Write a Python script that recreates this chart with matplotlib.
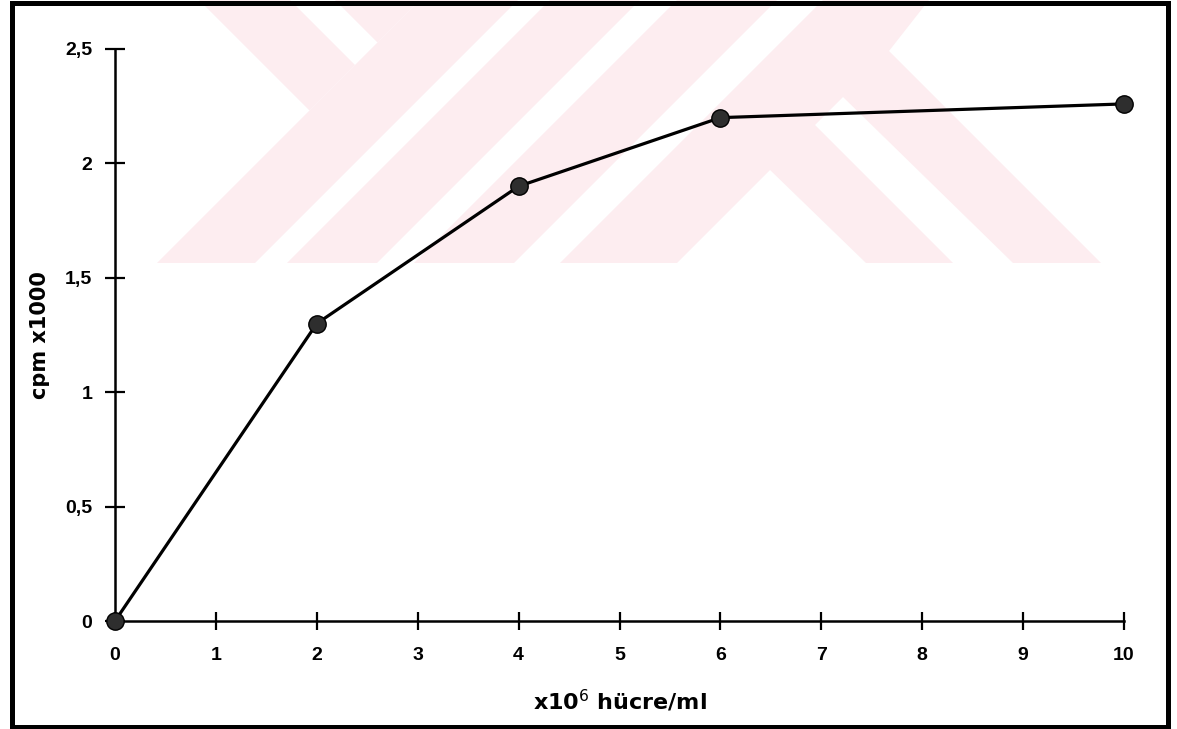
import matplotlib
matplotlib.use('Agg')
import matplotlib.pyplot as plt
from matplotlib.patches import Polygon, Rectangle


# hücre yoğunluğu (x10^6 hücre/ml) ve ölçülen cpm (x1000)
cell_density = [0, 2, 4, 6, 10]
cpm = [0, 1.30, 1.90, 2.20, 2.26]

x_ticks = [0, 1, 2, 3, 4, 5, 6, 7, 8, 9, 10]
x_tick_labels = ['0', '1', '2', '3', '4', '5', '6', '7', '8', '9', '10']
y_ticks = [0, 0.5, 1, 1.5, 2, 2.5]
y_tick_labels = ['0', '0,5', '1', '1,5', '2', '2,5']

W, H = 1177, 729

fig = plt.figure(figsize=(W / 100, H / 100), dpi=100)
fig.patch.set_facecolor('white')


def px(points):
    # piksel (soldan, yukaridan) -> figure koordinati
    return [(x / W, 1 - y / H) for x, y in points]


# arka plandaki soluk pembe logo: capraz seritler
pink = '#fdedf0'
logo_parts = [
    [(199, 0), (290, 0), (355, 65), (309.5, 110.5)],
    [(335, 0), (420, 0), (377.5, 42.5)],
    [(420, 0), (518, 0), (255, 263), (157, 263)],
    [(550, 0), (640, 0), (377, 263), (287, 263)],
    [(677, 0), (777, 0), (514, 263), (414, 263)],
    [(823, 0), (929, 0), (889, 51), (771.5, 168.5), (677, 263), (560, 263)],
    [(769, 169), (814, 124), (953, 263), (866, 263)],
    [(842, 96), (888, 50), (1101, 263), (1013, 263)],
]
for pts in logo_parts:
    fig.add_artist(Polygon(px(pts), closed=True, facecolor=pink,
                           edgecolor='none', transform=fig.transFigure,
                           zorder=-5))

# dis cerceve
fig.add_artist(Rectangle((11.5 / W, 1 - 727 / H), (1167.5 - 11.5) / W,
                         (727 - 2.5) / H, transform=fig.transFigure,
                         fill=False, edgecolor='black', linewidth=3.6,
                         zorder=10))

left, right = 115 / W, 1124 / W
bottom, top = 1 - 621 / H, 1 - 49 / H
ax = fig.add_axes([left, bottom, right - left, top - bottom])
ax.patch.set_alpha(0)

ax.plot(cell_density, cpm, color='black', linewidth=2.3, marker='o',
        markersize=12.5, markerfacecolor='#2e2e2e', markeredgecolor='black',
        markeredgewidth=1.0, clip_on=False, zorder=5)

ax.set_xlim(0, 10)
ax.set_ylim(0, 2.5)

for side in ['top', 'right']:
    ax.spines[side].set_visible(False)
for side in ['left', 'bottom']:
    ax.spines[side].set_linewidth(1.8)

tick_font = {'family': 'Liberation Sans', 'weight': 'bold', 'size': 14}

ax.set_xticks(x_ticks)
ax.set_xticklabels(x_tick_labels, fontdict=tick_font)
ax.set_yticks(y_ticks)
ax.set_yticklabels(y_tick_labels, fontdict=tick_font)

ax.tick_params(axis='x', direction='inout', length=13, width=1.6, pad=12.5)
ax.tick_params(axis='y', direction='inout', length=14.4, width=1.6, pad=9)

ax.set_xlabel('x10$^6$ hücre/ml', fontfamily='DejaVu Sans',
              fontweight='bold', fontsize=16)
ax.xaxis.set_label_coords(0.5, (621 - 688) / 572)

ax.set_ylabel('cpm x1000', fontfamily='DejaVu Sans', fontweight='bold',
              fontsize=15)
ax.yaxis.set_label_coords((50 - 115) / 1009, 0.5)

fig.savefig('out.png', dpi=100)
